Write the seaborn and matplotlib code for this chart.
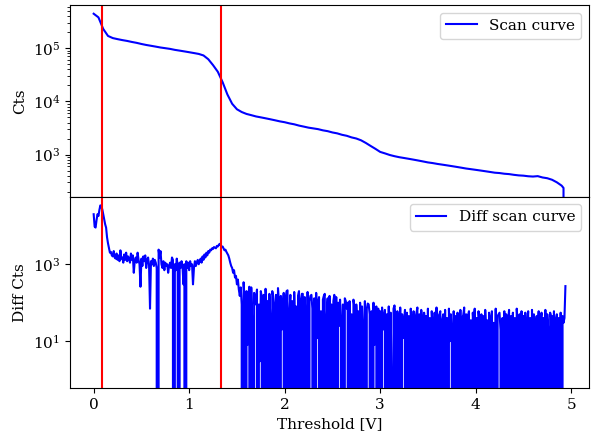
import numpy as np
import matplotlib
matplotlib.use("Agg")
import matplotlib.pyplot as plt
from matplotlib.ticker import LogLocator, NullLocator
import seaborn as sns

# ---- data ----
scan_threshold = [
    0.00, 0.05, 0.10, 0.15, 0.20, 0.25, 0.30, 0.35, 0.40, 0.45,
    0.50, 0.55, 0.60, 0.65, 0.70, 0.75, 0.80, 0.85, 0.90, 0.95,
    1.00, 1.05, 1.10, 1.15, 1.20, 1.25, 1.30, 1.35, 1.40, 1.45,
    1.50, 1.55, 1.60, 1.65, 1.70, 1.75, 1.80, 1.85, 1.90, 1.95,
    2.00, 2.05, 2.10, 2.15, 2.20, 2.25, 2.30, 2.35, 2.40, 2.45,
    2.50, 2.55, 2.60, 2.65, 2.70, 2.75, 2.80, 2.85, 2.90, 2.95,
    3.00, 3.05, 3.10, 3.15, 3.20, 3.25, 3.30, 3.35, 3.40, 3.45,
    3.50, 3.55, 3.60, 3.65, 3.70, 3.75, 3.80, 3.85, 3.90, 3.95,
    4.00, 4.05, 4.10, 4.15, 4.20, 4.25, 4.30, 4.35, 4.40, 4.45,
    4.50, 4.55, 4.60, 4.65, 4.70, 4.75, 4.80, 4.85, 4.90, 4.92,
    4.94,
]
scan_counts = [
    445000, 380000, 230000, 170000, 155000, 148000, 142000, 137000, 131000, 126000,
    120000, 115000, 111000, 107000, 103000, 100000, 97000, 93000, 90000, 87000,
    84000, 81000, 78000, 73000, 62000, 48000, 36000, 23000, 13500, 9000,
    7100, 6300, 5800, 5500, 5200, 5000, 4800, 4600, 4400, 4200,
    4050, 3850, 3700, 3500, 3350, 3200, 3100, 3000, 2850, 2750,
    2600, 2500, 2350, 2250, 2100, 2000, 1850, 1650, 1450, 1280,
    1120, 1050, 980, 930, 890, 860, 830, 800, 770, 740,
    710, 690, 665, 645, 625, 605, 585, 565, 545, 530,
    515, 500, 485, 470, 455, 448, 435, 428, 415, 405,
    400, 390, 385, 392, 370, 358, 335, 300, 260, 235,
    0,
]

diff_step = 0.01
diff_counts = [
    # 0.00 - 0.49
    20000, 9500, 9000, 14000, 20000, 18000, 26000, 34000, 31000, 27000,
    20000, 15000, 11000, 9000, 5000, 3500, 2600, 2000, 2100, 1700,
    1600, 2200, 1500, 1400, 1900, 1300, 1700, 1200, 2300, 1400,
    1500, 1100, 1800, 1300, 2000, 1200, 1600, 1400, 1100, 1900,
    1300, 1700, 600, 1200, 1500, 1100, 2000, 1300, 1000, 260,
    # 0.50 - 0.99
    1400, 900, 1600, 1200, 1700, 800, 1300, 1500, 900, 70,
    1200, 1000, 1400, 900, 1300, 1100, 800, 0, 2400, 1500,
    2200, 1000, 800, 1200, 700, 1100, 900, 1000, 600, 900,
    1100, 800, 1500, 1300, 0, 1000, 700, 1400, 900, 0,
    1100, 800, 1200, 900, 300, 1000, 0, 1200, 800, 1100,
    # 1.00 - 1.49
    700, 1200, 900, 1000, 300, 800, 1200, 900, 1100, 1300,
    1000, 1200, 1400, 1100, 1600, 1300, 1800, 1500, 2000, 1700,
    2200, 2000, 2400, 2300, 2600, 2500, 2800, 2700, 2600, 3000,
    2900, 3200, 3400, 3100, 2800, 2900, 2600, 2300, 2400, 2100,
    1900, 1700, 1400, 1100, 900, 800, 600, 700, 450, 500,
    # 1.50 - 1.99
    300, 400, 220, 150, 250, 90, 0, 340, 120, 0,
    200, 8, 150, 260, 0, 250, 30, 0, 180, 90,
    120, 220, 0, 90, 3, 200, 140, 0, 160, 0,
    230, 60, 110, 0, 170, 40, 0, 200, 150, 90,
    0, 160, 0, 240, 100, 0, 150, 20, 70, 180,
    # 2.00 - 2.49
    0, 130, 200, 210, 0, 60, 160, 0, 110, 0,
    190, 5, 80, 0, 150, 200, 0, 120, 170, 170,
    0, 140, 30, 0, 190, 0, 110, 150, 160, 70,
    0, 130, 0, 180, 12, 100, 140, 0, 60, 0,
    120, 150, 170, 0, 40, 130, 0, 150, 0, 90,
    # 2.50 - 2.99
    0, 110, 160, 0, 140, 0, 100, 25, 120, 30,
    0, 90, 0, 130, 110, 70, 100, 0, 110, 0,
    50, 0, 120, 80, 0, 90, 15, 60, 0, 100,
    0, 80, 20, 0, 110, 0, 70, 95, 90, 50,
    0, 60, 0, 100, 8, 40, 80, 0, 70, 0,
    # 3.00 - 3.49
    60, 0, 75, 20, 40, 65, 0, 50, 0, 80,
    0, 55, 1, 0, 70, 85, 45, 0, 60, 35,
    0, 75, 0, 50, 12, 30, 65, 0, 55, 0,
    45, 0, 70, 25, 0, 60, 0, 40, 55, 75,
    0, 50, 0, 65, 35, 0, 55, 18, 45, 0,
    # 3.50 - 3.99
    70, 0, 40, 0, 60, 20, 0, 55, 0, 75,
    0, 45, 50, 60, 0, 35, 50, 0, 65, 0,
    40, 0, 70, 10, 50, 15, 0, 60, 0, 45,
    0, 55, 30, 0, 65, 0, 40, 48, 75, 0,
    50, 0, 45, 60, 0, 35, 0, 55, 22, 70,
    # 4.00 - 4.49
    0, 40, 0, 60, 25, 0, 50, 0, 45, 0,
    65, 12, 35, 0, 55, 40, 0, 60, 0, 30,
    0, 70, 0, 45, 50, 55, 20, 0, 40, 0,
    60, 0, 50, 0, 35, 65, 0, 45, 3, 55,
    0, 40, 0, 70, 30, 0, 50, 0, 60, 38,
    # 4.50 - 4.94
    45, 0, 55, 0, 25, 60, 0, 40, 0, 65,
    0, 50, 35, 0, 45, 18, 60, 0, 30, 55,
    0, 40, 0, 65, 0, 50, 20, 0, 55, 42,
    45, 0, 60, 0, 35, 50, 0, 40, 0, 55,
    0, 45, 30, 40, 270,
]
diff_threshold = np.round(np.arange(len(diff_counts)) * diff_step, 2)

edge_positions = [0.09, 1.33]

# ---- style ----
plt.rcParams["font.family"] = ["DejaVu Serif"]
plt.rcParams["mathtext.fontset"] = "dejavuserif"
plt.rcParams["font.size"] = 11

fig, (ax1, ax2) = plt.subplots(2, 1, sharex=True, figsize=(5.94, 4.36), dpi=100)
fig.subplots_adjust(left=0.118, right=0.9916, top=0.9885, bottom=0.1094, hspace=0)

ax1.set_yscale("log")
ax2.set_yscale("log")

sns.lineplot(x=scan_threshold, y=scan_counts, ax=ax1, color="blue",
             linewidth=1.5, label="Scan curve")
sns.lineplot(x=diff_threshold, y=diff_counts, ax=ax2, color="blue",
             linewidth=1.5, label="Diff scan curve")

for ax in (ax1, ax2):
    for e in edge_positions:
        ax.axvline(e, color="red", linewidth=1.5)
    ax.legend(loc="upper right")

ax2.yaxis.set_major_locator(LogLocator(base=100, subs=(10.0,)))
ax2.yaxis.set_minor_locator(NullLocator())

ax1.set_ylabel("Cts")
ax2.set_ylabel("Diff Cts")
ax2.set_xlabel("Threshold [V]")

fig.savefig("out.png", dpi=100)
